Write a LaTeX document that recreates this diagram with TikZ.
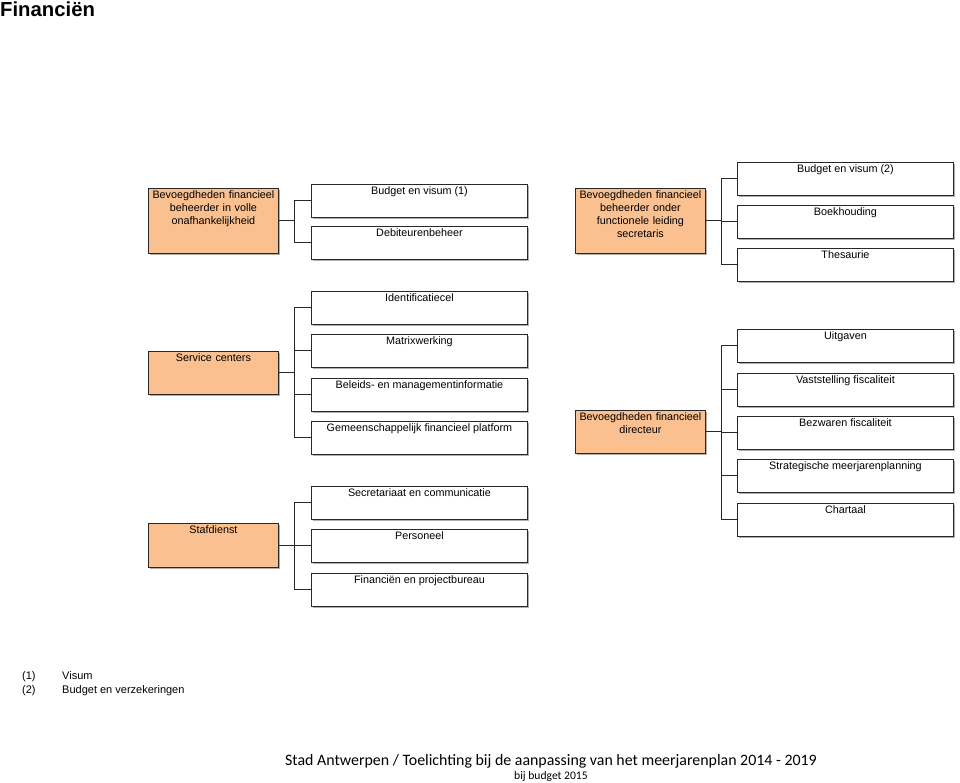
\documentclass[tikz,border=0pt]{standalone}
\usepackage{fontspec}
\setmainfont{Liberation Sans}
\newfontfamily\calib{Carlito}
\usetikzlibrary{shadows}
\definecolor{orangebox}{RGB}{250,192,144}
\definecolor{edge}{RGB}{40,40,40}
\tikzset{
  x=1pt, y=-1pt,
  boxbase/.style={draw=edge, line width=0.9pt, anchor=north west, inner sep=0pt,
    drop shadow={shadow xshift=2pt, shadow yshift=-2pt, fill=black!45, opacity=0.7}},
  childbox/.style={boxbase, fill=white, minimum width=216pt, minimum height=33pt,
    label={[anchor=north, inner sep=2.2pt, font=\fontsize{10.8}{13}\selectfont]north:#1}},
  parentbox/.style 2 args={boxbase, fill=orangebox, minimum width=130pt, minimum height=#1,
    label={[anchor=north, inner sep=2.5pt, text width=128pt, align=center, font=\fontsize{10.8}{13}\selectfont]north:#2}},
  conn/.style={draw=edge, line width=1pt}
}
\begin{document}
\begin{tikzpicture}
\useasboundingbox (0,0) rectangle (960,783);
% title
\node[anchor=base west, inner sep=0pt, font=\bfseries\fontsize{20.3}{24}\selectfont] (title) at (0,17) {Financiën};

% group 1: top left
\node[parentbox={65pt}{Bevoegdheden financieel\\beheerder in volle\\onafhankelijkheid}] (p1) at (148,188) {};
\node[childbox={Budget en visum (1)}] (c11) at (311,184) {};
\node[childbox={Debiteurenbeheer}] (c12) at (311,226) {};
\draw[conn] (p1.east) -- ++(16,0) coordinate (t1);
\draw[conn] (t1) |- (c11.west);
\draw[conn] (t1) |- (c12.west);

% group 2: top right
\node[parentbox={65pt}{Bevoegdheden financieel\\beheerder onder\\functionele leiding\\secretaris}] (p2) at (575,188) {};
\node[childbox={Budget en visum (2)}] (c21) at (737,162) {};
\node[childbox={Boekhouding}] (c22) at (737,205) {};
\node[childbox={Thesaurie}] (c23) at (737,248) {};
\draw[conn] (p2.east) -- ++(16,0) coordinate (t2);
\draw[conn] (t2) |- (c21.west);
\draw[conn] (t2) |- (c22.west);
\draw[conn] (t2) |- (c23.west);

% group 3: service centers
\node[parentbox={43pt}{Service centers}] (p3) at (148,351) {};
\node[childbox={Identificatiecel}] (c31) at (311,291) {};
\node[childbox={Matrixwerking}] (c32) at (311,334) {};
\node[childbox={Beleids- en managementinformatie}] (c33) at (311,378) {};
\node[childbox={Gemeenschappelijk financieel platform}] (c34) at (311,421) {};
\draw[conn] (p3.east) -- ++(16,0) coordinate (t3);
\draw[conn] (t3) |- (c31.west);
\draw[conn] (t3) |- (c32.west);
\draw[conn] (t3) |- (c33.west);
\draw[conn] (t3) |- (c34.west);

% group 4: financieel directeur
\node[parentbox={43pt}{Bevoegdheden financieel\\directeur}] (p4) at (575,410) {};
\node[childbox={Uitgaven}] (c41) at (737,329) {};
\node[childbox={Vaststelling fiscaliteit}] (c42) at (737,373) {};
\node[childbox={Bezwaren fiscaliteit}] (c43) at (737,416) {};
\node[childbox={Strategische meerjarenplanning}] (c44) at (737,459) {};
\node[childbox={Chartaal}] (c45) at (737,503) {};
\draw[conn] (p4.east) -- ++(16,0) coordinate (t4);
\draw[conn] (t4) |- (c41.west);
\draw[conn] (t4) |- (c42.west);
\draw[conn] (t4) |- (c43.west);
\draw[conn] (t4) |- (c44.west);
\draw[conn] (t4) |- (c45.west);

% group 5: stafdienst
\node[parentbox={44pt}{Stafdienst}] (p5) at (148,523) {};
\node[childbox={Secretariaat en communicatie}] (c51) at (311,486) {};
\node[childbox={Personeel}] (c52) at (311,529) {};
\node[childbox={Financiën en projectbureau}] (c53) at (311,573) {};
\draw[conn] (p5.east) -- ++(16,0) coordinate (t5);
\draw[conn] (t5) |- (c51.west);
\draw[conn] (t5) |- (c52.west);
\draw[conn] (t5) |- (c53.west);

% footnotes
\node[anchor=base west, inner sep=0pt, font=\fontsize{11}{13}\selectfont] (n1a) at (22,679) {(1)};
\node[anchor=base west, inner sep=0pt, font=\fontsize{11}{13}\selectfont] (n1b) at (62,679) {Visum};
\node[anchor=base west, inner sep=0pt, font=\fontsize{11}{13}\selectfont] (n2a) at (22,693) {(2)};
\node[anchor=base west, inner sep=0pt, font=\fontsize{11}{13}\selectfont] (n2b) at (62,693) {Budget en verzekeringen};

% footer
\node[anchor=base, inner sep=0pt, font=\calib\fontsize{15.9}{18}\selectfont] (f1) at (551,765) {Stad Antwerpen / Toelichting bij de aanpassing van het meerjarenplan 2014 - 2019};
\node[anchor=base, inner sep=0pt, font=\calib\fontsize{11.6}{13}\selectfont] (f2) at (551,779) {bij budget 2015};
\end{tikzpicture}
\end{document}
